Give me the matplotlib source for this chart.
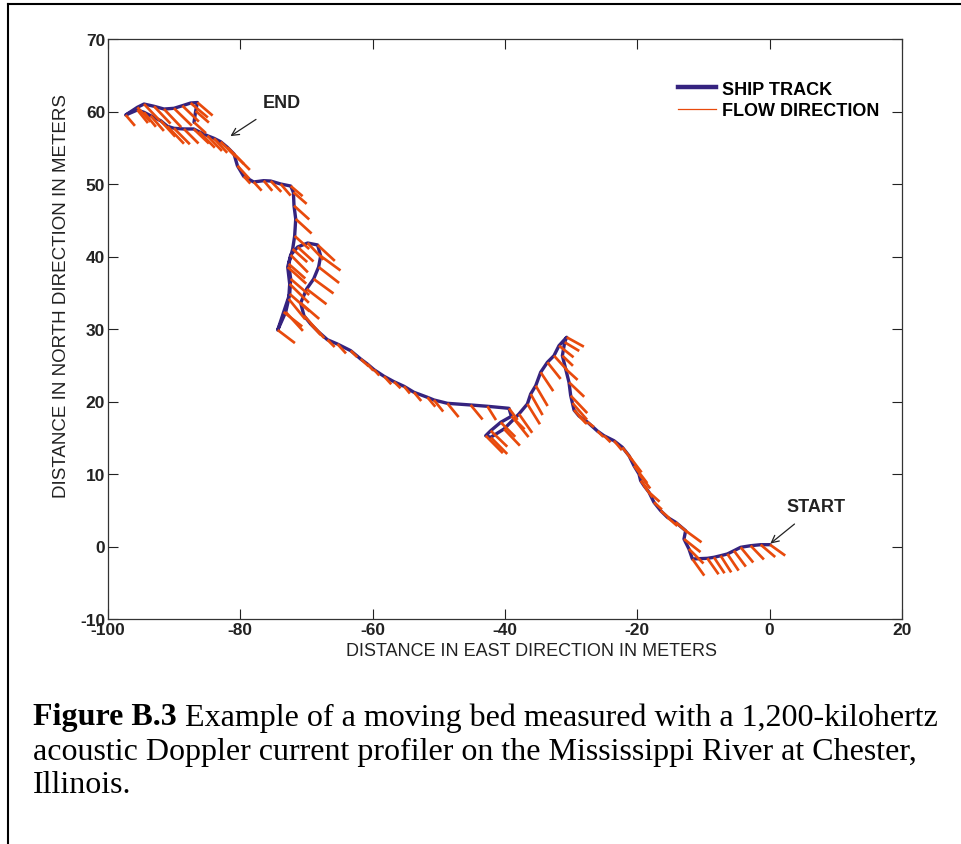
import matplotlib
matplotlib.use("Agg")
import matplotlib.pyplot as plt
from matplotlib.lines import Line2D

plt.rcParams["axes.unicode_minus"] = False

# ── ship track (metres east / north of the start) ────────────────────────────
east = [0.05, -1.36, -2.87, -4.38, -5.40, -6.39, -7.41, -8.42, -9.42, -11.68,
        -12.20, -12.95, -12.70, -14.21, -15.46, -16.47, -17.49, -18.24, -19.00, -19.50,
        -19.75, -20.51, -21.26, -22.26, -23.53, -25.04, -26.04, -27.55, -28.82, -29.57,
        -29.81, -30.07, -30.33, -30.83, -31.33, -30.98, -30.68, -31.84, -32.60, -33.59,
        -34.61, -35.36, -36.12, -36.62, -37.89, -38.64, -40.15, -42.16, -42.92, -42.16,
        -40.65, -39.04, -39.40, -42.66, -45.19, -48.71, -50.74, -51.73, -53.76, -55.27,
        -56.78, -58.29, -59.80, -60.80, -61.81, -63.32, -65.33, -66.84, -68.11, -69.37,
        -70.38, -70.88, -69.98, -68.92, -68.17, -67.86, -68.32, -69.83, -71.34, -72.39,
        -72.84, -72.54, -72.69, -73.14, -74.35, -73.45, -72.54, -72.39, -72.69, -72.09,
        -71.79, -71.63, -71.89, -71.98, -72.39, -73.90, -75.41, -76.47, -77.98, -79.49,
        -80.44, -80.96, -81.96, -82.97, -83.98, -84.98, -86.25, -87.05, -88.52, -90.03,
        -91.02, -92.04, -93.55, -94.56, -95.56, -97.33, -95.56, -94.56, -93.05, -91.54,
        -90.03, -88.76, -87.51, -86.49, -86.75, -87.00]
north = [0.25, 0.25, 0.11, -0.11, -0.58, -1.03, -1.27, -1.49, -1.63, -1.72,
         -0.34, 1.03, 2.18, 3.34, 4.03, 4.94, 6.10, 7.48, 8.39, 9.08,
         10.00, 11.14, 12.52, 13.68, 14.59, 15.28, 15.93, 17.17, 18.00, 18.83,
         19.79, 20.80, 22.65, 24.48, 26.32, 28.17, 28.86, 27.70, 26.32, 25.41,
         24.03, 22.18, 21.03, 19.66, 18.28, 17.59, 16.21, 15.06, 15.28, 15.97,
         17.13, 17.96, 19.06, 19.34, 19.52, 19.75, 20.21, 20.58, 21.27, 22.10,
         22.73, 23.48, 24.39, 25.17, 25.86, 27.01, 27.93, 28.52, 29.54, 30.69,
         31.83, 33.59, 35.52, 36.90, 38.55, 40.07, 41.59, 41.86, 41.31, 40.21,
         38.55, 36.21, 34.14, 32.34, 29.86, 32.34, 34.83, 36.90, 38.97, 41.03,
         42.83, 45.17, 47.01, 48.86, 49.72, 50.00, 50.41, 50.46, 50.28, 51.06,
         52.52, 54.14, 55.06, 55.83, 56.30, 56.66, 57.21, 57.59, 57.59, 57.68,
         57.96, 58.73, 59.42, 59.89, 60.21, 59.52, 60.58, 61.03, 60.72, 60.34,
         60.44, 60.80, 61.17, 61.24, 60.07, 58.51]

# ── flow direction vectors at each track point (m) ───────────────────────────
flow_e = [2.3, 2.2, 2.0, 1.9, 1.8, 1.7, 1.6, 1.6, 1.7, 1.8,
          2.2, 2.5, 2.4, 1.8, 1.5, 1.4, 1.2, 1.6, 1.3, 1.0,
          1.7, 2.0, 1.9, 1.5, 1.2, 1.0, 0.9, 1.0, 1.2, 1.8,
          2.2, 2.5, 2.3, 1.8, 1.6, 2.2, 2.6, 2.2, 2.0, 2.0,
          1.9, 1.8, 1.8, 1.9, 2.0, 2.2, 2.4, 2.5, 2.6, 2.5,
          2.2, 2.0, 1.3, 1.3, 1.8, 1.7, 1.4, 1.2, 1.1, 0.9,
          1.0, 1.1, 0.8, 0.9, 1.2, 1.0, 1.3, 1.1, 0.8, 1.5,
          2.5, 2.8, 3.0, 3.0, 3.1, 3.0, 2.6, 2.4, 2.4, 2.6,
          2.8, 2.9, 2.5, 2.6, 2.6, 2.8, 3.0, 2.8, 2.5, 2.2,
          2.2, 2.4, 2.3, 2.0, 1.8, 1.5, 1.6, 1.3, 1.2, 1.0,
          1.8, 2.4, 2.5, 2.3, 2.0, 2.2, 2.4, 2.3, 2.2, 2.4,
          2.5, 2.2, 2.0, 1.8, 1.6, 1.4, 2.0, 2.4, 2.5, 2.6,
          2.7, 2.5, 2.6, 2.3, 2.0, 1.8]
flow_n = [-1.5, -1.7, -1.9, -2.1, -2.2, -2.3, -2.3, -2.2, -2.2, -2.3,
          -2.0, -1.8, -1.6, -1.4, -1.2, -1.1, -1.0, -1.3, -1.6, -1.2,
          -2.0, -2.4, -2.3, -1.8, -1.3, -0.9, -0.8, -0.7, -1.1, -1.8,
          -2.3, -2.4, -2.0, -1.5, -1.4, -1.2, -1.3, -1.6, -2.0, -2.3,
          -2.6, -2.8, -2.9, -2.8, -2.6, -2.5, -2.3, -2.3, -2.4, -2.2,
          -2.0, -1.8, -1.6, -1.9, -2.0, -1.9, -1.6, -1.3, -1.2, -1.0,
          -0.9, -1.1, -0.8, -0.9, -1.0, -0.9, -1.3, -1.0, -0.8, -1.5,
          -2.5, -2.2, -2.1, -2.0, -2.2, -2.0, -2.2, -2.3, -2.0, -2.4,
          -2.3, -2.6, -2.8, -2.6, -1.8, -2.0, -2.4, -2.2, -2.0, -1.8,
          -1.8, -2.0, -1.9, -1.6, -1.4, -1.6, -1.5, -1.4, -1.2, -1.0,
          -1.8, -2.2, -2.3, -2.1, -2.0, -2.1, -2.2, -2.0, -2.0, -2.2,
          -2.4, -2.2, -2.1, -2.0, -1.8, -1.5, -2.0, -2.3, -2.4, -2.5,
          -2.4, -2.2, -2.0, -1.8, -1.6, -1.5]

x_ticks = [-100, -80, -60, -40, -20, 0, 20]
y_ticks = [-10, 0, 10, 20, 30, 40, 50, 60, 70]

track_col = "#35237f"
flow_col = "#e84a0c"
text_col = "#222222"
sans = ["Liberation Sans", "DejaVu Sans"]
serif = ["Liberation Serif", "DejaVu Serif"]

fig = plt.figure(figsize=(9.61, 8.45), dpi=100)
W, H = 961.0, 845.0
ax = fig.add_axes([108 / W, 1 - 620 / H, (902 - 108) / W, (620 - 40) / H])

ax.plot(east, north, color=track_col, linewidth=2.4, solid_capstyle="round", zorder=2)
ax.quiver(east, north, flow_e, flow_n, angles="xy", scale_units="xy", scale=1,
          color=flow_col, units="dots", width=2.7, headwidth=0, headlength=0,
          headaxislength=0, zorder=3)

ax.set_xlim(-100, 20)
ax.set_ylim(-10, 70)
ax.set_xticks(x_ticks)
ax.set_yticks(y_ticks)
ax.tick_params(direction="in", length=7, width=0.8, top=True, right=True,
               pad=2, labelsize=12.5, colors=text_col)
for lab in ax.get_xticklabels() + ax.get_yticklabels():
    lab.set_fontfamily(sans)
    lab.set_fontweight("bold")
for sp in ax.spines.values():
    sp.set_linewidth(0.9)
    sp.set_color("#333333")

fig.text(532 / W, 1 - 652 / H, "DISTANCE IN EAST DIRECTION IN METERS",
         family=sans, fontsize=13, ha="center", va="center", color=text_col)
fig.text(62 / W, 1 - 296 / H, "DISTANCE IN NORTH DIRECTION IN METERS",
         family=sans, fontsize=13.5, ha="center", va="center", rotation=90,
         color=text_col)

handles = [Line2D([], [], color=track_col, linewidth=3.2),
           Line2D([], [], color=flow_col, linewidth=0.9)]
ax.legend(handles, ["SHIP TRACK", "FLOW DIRECTION"], loc="upper left",
          bbox_to_anchor=(0.718, 0.928), frameon=False, borderpad=0,
          borderaxespad=0, handlelength=2.1, handletextpad=0.33,
          labelspacing=0.25,
          prop={"family": sans, "weight": "bold", "size": 13})

ax.annotate("END", xy=(-81.5, 56.6), xytext=(-73.8, 61.2),
            fontsize=13, fontweight="bold", family=sans, color=text_col,
            ha="center", va="center",
            arrowprops=dict(arrowstyle="->", color=text_col, lw=0.9,
                            shrinkA=7, shrinkB=0))
ax.annotate("START", xy=(0.1, 0.4), xytext=(7.0, 5.5),
            fontsize=13, fontweight="bold", family=sans, color=text_col,
            ha="center", va="center",
            arrowprops=dict(arrowstyle="->", color=text_col, lw=0.9,
                            shrinkA=7, shrinkB=0))

# caption: bold figure number followed by plain text
cap_lines = [
    (718, "Figure B.3", " Example of a moving bed measured with a 1,200-kilohertz"),
    (752, "", "acoustic Doppler current profiler on the Mississippi River at Chester,"),
    (786, "", "Illinois."),
]
for y, bold, rest in cap_lines:
    x0 = 33 / W
    if bold:
        t = fig.text(x0, 1 - y / H, bold, family=serif, fontsize=23,
                     fontweight="bold", va="center", ha="left")
        fig.canvas.draw()
        x0 = t.get_window_extent().x1 / W
    fig.text(x0, 1 - y / H, rest, family=serif, fontsize=23,
             va="center", ha="left")

# outer frame of the figure page
fig.add_artist(Line2D([8 / W, 8 / W], [0, 1 - 5 / H], color="black", lw=1.5,
                      transform=fig.transFigure))
fig.add_artist(Line2D([8 / W, 1], [1 - 5 / H, 1 - 5 / H], color="black", lw=1.5,
                      transform=fig.transFigure))

fig.savefig("out.png", dpi=100)
